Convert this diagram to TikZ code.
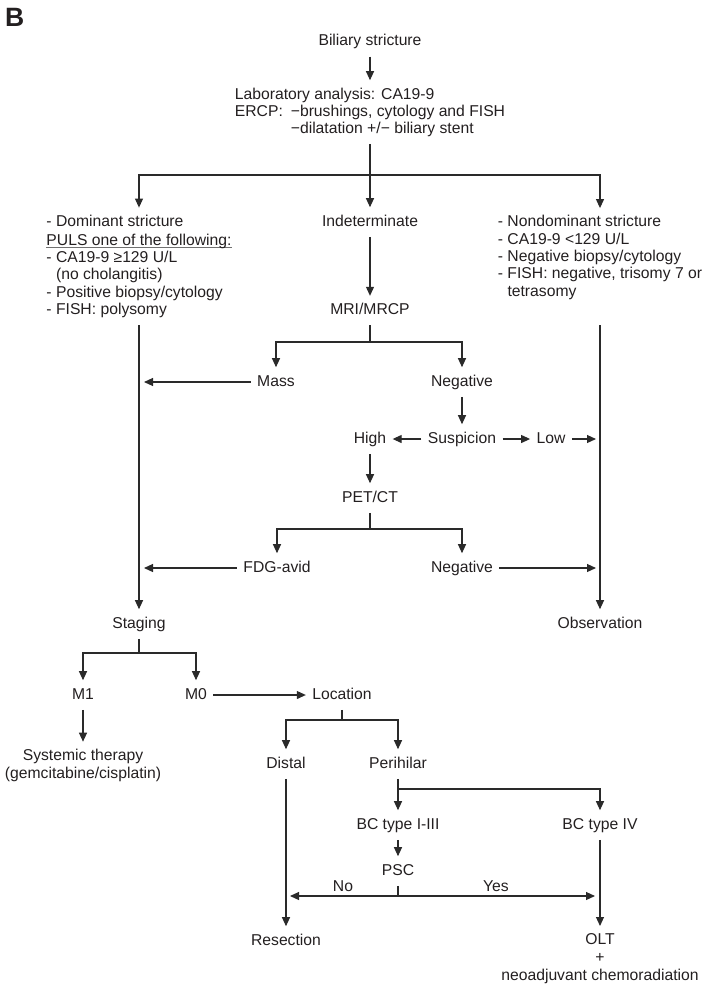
\documentclass[tikz,border=0pt]{standalone}
\usepackage{fontspec}
\setmainfont{Liberation Sans}
\usetikzlibrary{arrows.meta}
\definecolor{txt}{HTML}{231F20}
\definecolor{lc}{HTML}{2A2A2A}
\definecolor{ulc}{HTML}{707070}
\newcommand\ulgray[1]{\setbox0\hbox{#1}\rlap{\textcolor{ulc}{\rule[-2.8pt]{\wd0}{1pt}}}\box0}
\begin{document}
\begin{tikzpicture}[x=1pt,y=-1pt,
  every node/.style={font=\fontsize{15.7}{17.3}\selectfont, text=txt, inner sep=0pt},
  lbl/.style={anchor=base, text height=11.3pt, text depth=3.3pt, outer xsep=6.5pt, outer ysep=7.5pt},
  mlbl/.style={align=left, outer xsep=6.5pt, outer ysep=7.5pt},
  clbl/.style={align=center, outer xsep=6.5pt, outer ysep=7.5pt},
  ln/.style={draw=lc, line width=1.1pt},
  arr/.style={ln, -{Triangle[length=9pt,width=8pt]}},
]
\useasboundingbox (0,0) rectangle (707,989);

% panel letter
\node[anchor=base west, font=\fontsize{26.5}{28}\selectfont\bfseries] (B) at (5,26) {B};

% nodes
\node[lbl] (bil) at (370,45.7) {Biliary stricture};
\node[mlbl, font=\fontsize{15.7}{17}\selectfont] (lab) at (370,112) {Laboratory analysis: CA19-9\\
ERCP:\hspace{8pt}−brushings, cytology and FISH\\
\hphantom{ERCP:\hspace{8pt}}−dilatation +/− biliary stent};

\node[mlbl] (dom) at (139,266.4) {- Dominant stricture\\[1.5pt]
\ulgray{PULS one of the following:}\\
- CA19-9 ≥129 U/L\\
\hphantom{- }(no cholangitis)\\
- Positive biopsy/cytology\\
- FISH: polysomy};
\node[lbl] (ind) at (370,226) {Indeterminate};
\node[mlbl] (nondom) at (600,257.5) {- Nondominant stricture\\
- CA19-9 <129 U/L\\
- Negative biopsy/cytology\\
- FISH: negative, trisomy 7 or\\
\hphantom{- }tetrasomy};

\node[lbl] (mri) at (370,314.6) {MRI/MRCP};
\node[lbl] (mass) at (276,386) {Mass};
\node[lbl] (neg1) at (462,386) {Negative};
\node[lbl] (susp) at (462,443) {Suspicion};
\node[lbl] (high) at (370,443) {High};
\node[lbl] (low) at (551,443) {Low};
\node[lbl] (pet) at (370,502) {PET/CT};
\node[lbl] (fdg) at (277,572) {FDG-avid};
\node[lbl] (neg2) at (462,572) {Negative};
\node[lbl] (stag) at (139,628) {Staging};
\node[lbl] (obs) at (600,628) {Observation};
\node[lbl] (m1) at (83,699) {M1};
\node[lbl] (m0) at (196,699) {M0};
\node[lbl] (loc) at (342,699) {Location};
\node[clbl, font=\fontsize{15.7}{18}\selectfont] (sys) at (83,765.5) {Systemic therapy\\(gemcitabine/cisplatin)};
\node[lbl] (dist) at (286,768) {Distal};
\node[lbl] (peri) at (398,768) {Perihilar};
\node[lbl] (bc13) at (398,829) {BC type I-III};
\node[lbl] (bc4) at (600,829) {BC type IV};
\node[lbl] (psc) at (398,875) {PSC};
\node[lbl] (no) at (343,891.5) {No};
\node[lbl] (yes) at (496,891.5) {Yes};
\node[lbl] (res) at (286,945) {Resection};
\node[clbl, font=\fontsize{15.7}{18}\selectfont] (olt) at (600,958.6) {OLT\\+\\neoadjuvant chemoradiation};

% junctions
\coordinate (j0) at (370,175);
\coordinate (j1) at (370,342);
\coordinate (j2) at (370,529);
\coordinate (j3) at (139,653);
\coordinate (j4) at (342,720);
\coordinate (j5) at (398,789);
\coordinate (j6) at (398,896);

% connectors
\draw[arr] (bil.south) -- (lab.north);
\draw[ln] (lab.south) -- (j0);
\draw[arr] (j0) -| (dom.north);
\draw[arr] (j0) -- (ind.north);
\draw[arr] (j0) -| (nondom.north);

\draw[arr] (ind.south) -- (mri.north);
\draw[ln] (mri.south) -- (j1);
\draw[arr] (j1) -| (mass.north);
\draw[arr] (j1) -| (neg1.north);
\draw[arr, shorten >=5pt] (mass.west) -- (mass.west -| dom.south);
\draw[arr] (neg1.south) -- (susp.north);
\draw[arr] (susp.west) -- (high.east);
\draw[arr] (susp.east) -- (low.west);
\draw[arr, shorten >=4pt] (low.east) -- (low.east -| nondom.south);
\draw[arr] (high.south) -- (pet.north);
\draw[ln] (pet.south) -- (j2);
\draw[arr] (j2) -| (fdg.north);
\draw[arr] (j2) -| (neg2.north);
\draw[arr, shorten >=5pt] (fdg.west) -- (fdg.west -| dom.south);
\draw[arr, shorten >=4pt] (neg2.east) -- (neg2.east -| nondom.south);

\draw[arr] (dom.south) -- (stag.north);
\draw[arr] (dom.south -| nondom.south) -- (obs.north);

\draw[ln] (stag.south) -- (j3);
\draw[arr] (j3) -| (m1.north);
\draw[arr] (j3) -| (m0.north);
\draw[arr] (m0.east) -- (loc.west);
\draw[arr] (m1.south) -- (sys.north);
\draw[ln] (loc.south) -- (j4);
\draw[arr] (j4) -| (dist.north);
\draw[arr] (j4) -| (peri.north);
\draw[ln] (peri.south) -- (j5);
\draw[arr] (j5) -- (bc13.north);
\draw[arr] (j5) -| (bc4.north);
\draw[arr] (bc13.south) -- (psc.north);
\draw[ln] (psc.south) -- (j6);
\draw[arr, shorten >=4pt] (j6) -- (j6 -| dist.south);
\draw[arr, shorten >=5pt] (j6) -- (j6 -| bc4.south);
\draw[arr] (dist.south) -- (res.north);
\draw[arr] (bc4.south) -- (olt.north);
\end{tikzpicture}
\end{document}
